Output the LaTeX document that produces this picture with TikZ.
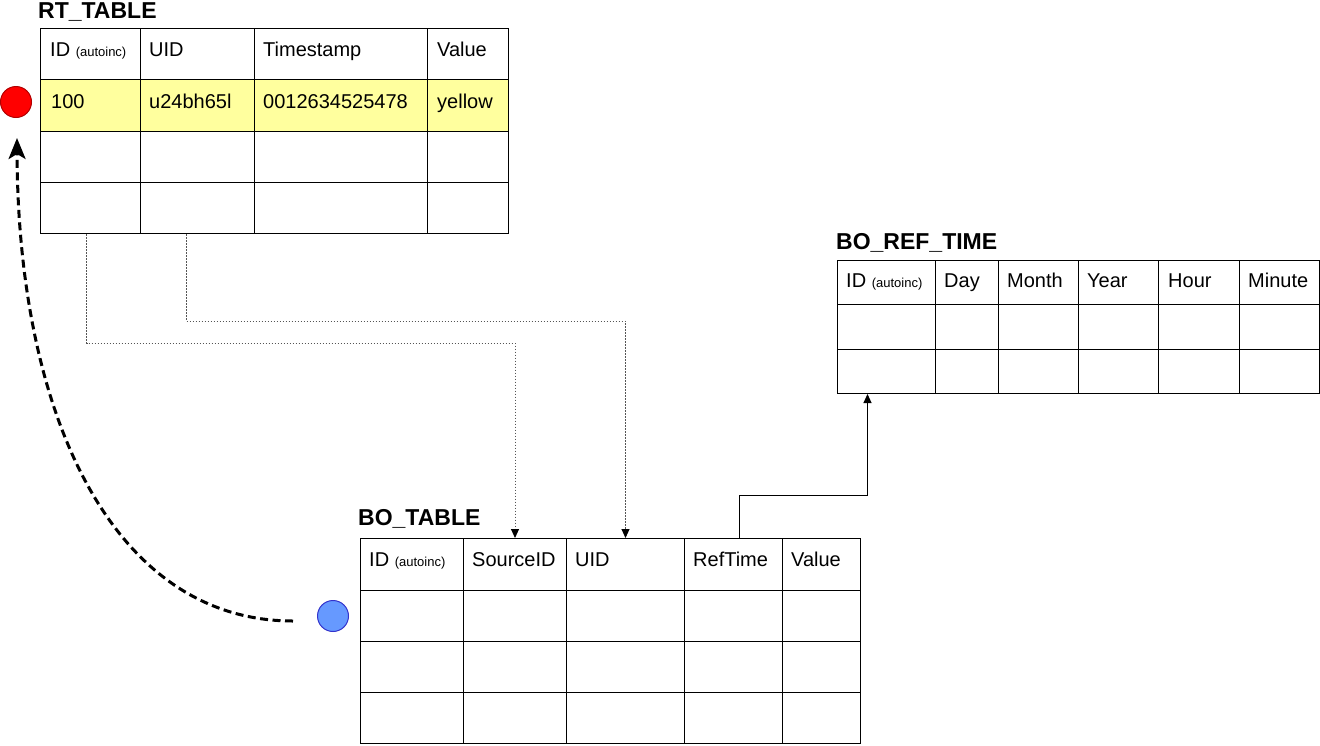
\documentclass[tikz,border=0pt]{standalone}
\usepackage{fontspec}
\setmainfont{Liberation Sans}
\usetikzlibrary{arrows.meta}
\definecolor{rowyellow}{HTML}{FFFF9E}
\definecolor{dotgray}{HTML}{555555}
\definecolor{markred}{HTML}{FF0000}
\definecolor{markredline}{HTML}{B20000}
\definecolor{markblue}{HTML}{6699FF}
\definecolor{markblueline}{HTML}{3333CC}
\begin{document}
\begin{tikzpicture}[x=1pt,y=-1pt,
  cell/.style={draw=black, line width=1pt, inner sep=0pt, anchor=north west, fill=white},
  rtrow1/.style={}, rtrow2/.style={fill=rowyellow}, rtrow3/.style={}, rtrow4/.style={},
  celltext/.style={anchor=base west, inner sep=0pt, font=\fontsize{20}{24}\selectfont},
  tabletitle/.style={anchor=base west, inner sep=0pt, font=\bfseries\fontsize{23}{27}\selectfont},
  marker/.style={circle, inner sep=0pt, minimum size=31pt, line width=1pt},
  dotconn/.style={draw=dotgray, line width=1pt, dash pattern=on 1.5pt off 1.5pt,
    -{Triangle[length=9pt,width=8pt,color=black]}},
  solidconn/.style={draw=black, line width=1pt, -{Triangle[length=9pt,width=8pt]}},
  bigdash/.style={draw=black, line width=3pt, dash pattern=on 8pt off 4.5pt,
    -{Stealth[length=21pt,width=17pt,inset=5pt]}},
]
\useasboundingbox (0,0) rectangle (1320,745);

\newcommand\autoinc{ {\fontsize{13}{15}\selectfont(autoinc)}}

% ---------- RT_TABLE ----------
\node[tabletitle] (rt-title) at (38,18) {RT\_TABLE};
\foreach \c/\xa/\xb in {1/40/140,2/140/254,3/254/427,4/427/508}
  \foreach \r/\ya/\yb in {1/28/79,2/79/131,3/131/182,4/182/233}
    \node[cell, rtrow\r, minimum width=\xb pt-\xa pt, minimum height=\yb pt-\ya pt]
      (rt-\r-\c) at (\xa,\ya) {};
\node[celltext] (rt-h1) at ([shift={(10,28)}]rt-1-1.north west) {ID\autoinc};
\node[celltext] (rt-h2) at ([shift={(9,28)}]rt-1-2.north west) {UID};
\node[celltext] (rt-h3) at ([shift={(9,28)}]rt-1-3.north west) {Timestamp};
\node[celltext] (rt-h4) at ([shift={(10,28)}]rt-1-4.north west) {Value};
\node[celltext] (rt-d1) at ([shift={(11,29)}]rt-2-1.north west) {100};
\node[celltext] (rt-d2) at ([shift={(9,29)}]rt-2-2.north west) {u24bh65l};
\node[celltext] (rt-d3) at ([shift={(9,29)}]rt-2-3.north west) {0012634525478};
\node[celltext] (rt-d4) at ([shift={(10,29)}]rt-2-4.north west) {yellow};

% ---------- BO_REF_TIME ----------
\node[tabletitle] (ref-title) at (836,249) {BO\_REF\_TIME};
\foreach \c/\xa/\xb in {1/837/935,2/935/998,3/998/1078,4/1078/1158,5/1158/1239,6/1239/1319}
  \foreach \r/\ya/\yb in {1/260/304,2/304/349,3/349/393}
    \node[cell, minimum width=\xb pt-\xa pt, minimum height=\yb pt-\ya pt]
      (ref-\r-\c) at (\xa,\ya) {};
\node[celltext] (ref-h1) at ([shift={(9,27)}]ref-1-1.north west) {ID\autoinc};
\node[celltext] (ref-h2) at ([shift={(9,27)}]ref-1-2.north west) {Day};
\node[celltext] (ref-h3) at ([shift={(9,27)}]ref-1-3.north west) {Month};
\node[celltext] (ref-h4) at ([shift={(9,27)}]ref-1-4.north west) {Year};
\node[celltext] (ref-h5) at ([shift={(10,27)}]ref-1-5.north west) {Hour};
\node[celltext] (ref-h6) at ([shift={(9,27)}]ref-1-6.north west) {Minute};

% ---------- BO_TABLE ----------
\node[tabletitle] (bo-title) at (358,525) {BO\_TABLE};
\foreach \c/\xa/\xb in {1/360/463,2/463/566,3/566/684,4/684/782,5/782/860}
  \foreach \r/\ya/\yb in {1/538/590,2/590/641,3/641/692,4/692/743}
    \node[cell, minimum width=\xb pt-\xa pt, minimum height=\yb pt-\ya pt]
      (bo-\r-\c) at (\xa,\ya) {};
\node[celltext] (bo-h1) at ([shift={(9,28)}]bo-1-1.north west) {ID\autoinc};
\node[celltext] (bo-h2) at ([shift={(9,28)}]bo-1-2.north west) {SourceID};
\node[celltext] (bo-h3) at ([shift={(9,28)}]bo-1-3.north west) {UID};
\node[celltext] (bo-h4) at ([shift={(9,28)}]bo-1-4.north west) {RefTime};
\node[celltext] (bo-h5) at ([shift={(9,28)}]bo-1-5.north west) {Value};

% ---------- markers ----------
\node[marker, draw=markredline, fill=markred] (red) at (16,102) {};
\node[marker, draw=markblueline, fill=markblue] (blue) at (333,616) {};

% ---------- connectors ----------
\draw[dotconn] ([xshift=-4pt]rt-4-1.south) -- ++(0,109) -| (bo-1-2.north);
\draw[dotconn] ([xshift=-11pt]rt-4-2.south) -- ++(0,87) -| (bo-1-3.north);
\draw[solidconn] ([xshift=6pt]bo-1-4.north) -- ++(0,-43) -| ([xshift=-19pt]ref-3-1.south);
\draw[bigdash] ([xshift=-24pt,yshift=-5pt]blue.west)
  .. controls (115,621) and (18,420) .. ([xshift=1pt,yshift=-20pt]red.south);
\end{tikzpicture}
\end{document}
